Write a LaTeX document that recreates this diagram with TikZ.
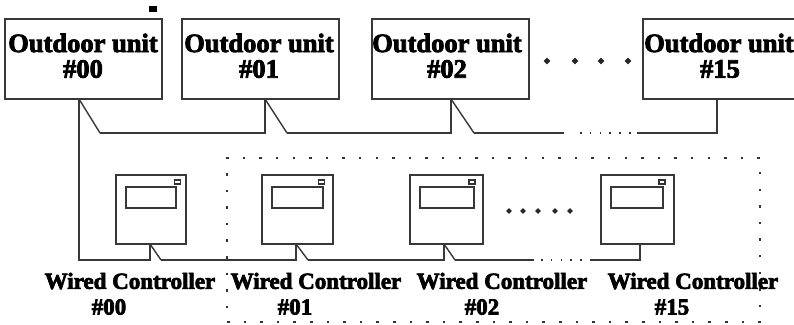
\documentclass[tikz,border=0pt]{standalone}
\usepackage{fontspec}
\newfontfamily\heavy[FakeBold=3]{Liberation Serif Bold}
\usetikzlibrary{shapes.geometric}
\tikzset{
  x=1pt,y=-1pt,
  line/.style={line width=1.7pt,draw=black!78},
  thinline/.style={line width=1.4pt,draw=black!78},
  unitbox/.style={line,rectangle,inner sep=0pt,outer sep=0pt,minimum width=157pt,minimum height=80pt},
  ctrlbox/.style={line,rectangle,inner sep=0pt,outer sep=0pt,minimum height=69pt},
  screen/.style={line,rectangle,inner sep=0pt,outer sep=0pt,minimum height=21pt},
  led/.style={line width=1.2pt,draw=black!80,rectangle,inner sep=0pt,outer sep=0pt,minimum width=6pt,minimum height=4pt},
  unitlabel/.style={inner sep=0pt,font=\heavy\fontsize{26.5}{27}\selectfont},
  ctrllabel/.style={inner sep=0pt,font=\heavy\fontsize{23}{24}\selectfont},
  gapdots/.style={line width=1.3pt,draw=black!80,dash pattern=on 1.5pt off 8.3pt},
  bigdot/.style={fill=black!85,diamond,inner sep=0pt,minimum size=7pt},
  smalldot/.style={fill=black!85,diamond,inner sep=0pt,minimum size=6pt}
}
\begin{document}
\begin{tikzpicture}
\useasboundingbox (0,0) rectangle (794,324);
\clip (0,0) rectangle (794,324);
\fill[white] (0,0) rectangle (794,324);
% stray mark
\node[fill=black,inner sep=0pt,minimum width=8pt,minimum height=6pt] (mark) at (153,9) {};
% outdoor units
\node[unitbox] (o0) at (83.5,59) {};
\node[unitbox] (o1) at (260.5,59) {};
\node[unitbox] (o2) at (450.5,59) {};
\node[unitbox,minimum width=160pt] (o3) at (723,59) {};
\node[unitlabel] (o0a) at (83,43) {Outdoor unit};
\node[unitlabel] (o0b) at (83,69) {\#00};
\node[unitlabel] (o1a) at (259,43) {Outdoor unit};
\node[unitlabel] (o1b) at (259,69) {\#01};
\node[unitlabel] (o2a) at (447,43) {Outdoor unit};
\node[unitlabel] (o2b) at (447,69) {\#02};
\node[unitlabel] (o3a) at (719,43) {Outdoor unit};
\node[unitlabel] (o3b) at (720,69) {\#15};
% dots between outdoor units
\foreach \x/\n in {547/a,575/b,601/c,628/d}
  \node[bigdot] (od\n) at (\x,61) {};
% dotted frame
\node[draw=black!80,line width=1.7pt,dash pattern=on 2.5pt off 14.1pt,rectangle,inner sep=0pt,outer sep=0pt,minimum width=533pt,minimum height=164pt] (frame) at (493.5,240) {};
% controllers
\node[ctrlbox,minimum width=70pt] (c0) at (151,209.5) {};
\node[ctrlbox,minimum width=71pt] (c1) at (297.5,209.5) {};
\node[ctrlbox,minimum width=73pt] (c2) at (446.5,209.5) {};
\node[ctrlbox,minimum width=73pt] (c3) at (637.5,209.5) {};
\node[screen,minimum width=50pt] (s0) at (151,197.5) {};
\node[screen,minimum width=51pt] (s1) at (297.5,197.5) {};
\node[screen,minimum width=54pt] (s2) at (447,197.5) {};
\node[screen,minimum width=52pt] (s3) at (637,197.5) {};
\node[led] (l0) at (177.5,182) {};
\node[led] (l1) at (321.5,182) {};
\node[led] (l2) at (472,182) {};
\node[led] (l3) at (662,182) {};
\foreach \x/\n in {509/a,523/b,538/c,555/d,570/e}
  \node[smalldot] (cd\n) at (\x,211) {};
% labels
\node[ctrllabel] (c0a) at (130,281) {Wired Controller};
\node[ctrllabel] (c0b) at (109,307) {\#00};
\node[ctrllabel] (c1a) at (316,281) {Wired Controller};
\node[ctrllabel] (c1b) at (295,307) {\#01};
\node[ctrllabel] (c2a) at (502,281) {Wired Controller};
\node[ctrllabel] (c2b) at (482,307) {\#02};
\node[ctrllabel] (c3a) at (693,281) {Wired Controller};
\node[ctrllabel] (c3b) at (672,307) {\#15};
% outdoor bus
\coordinate (t0) at (100,133);
\coordinate (t1) at (265,133);
\coordinate (t1b) at (287,133);
\coordinate (t2) at (451,133);
\coordinate (t2b) at (474,133);
\coordinate (t3) at (564,133);
\coordinate (t4) at (637,133);
\coordinate (t5) at (717,133);
\coordinate (u0) at (79,99);
\coordinate (u1) at (265,99);
\coordinate (u2) at (451,99);
\draw[line] (t0) -- (t1) -- (u1) (t1b) -- (t2) -- (u2) (t2b) -- (t3);
\draw[thinline] (u0) -- (t0) (u1) -- (t1b) (u2) -- (t2b);
\draw[line] (t4) -- (t5) -- (o3.south -| t5);
\draw[gapdots] (t3) ++(16,0) -- (t4);
% controller bus
\coordinate (b0) at (79,260);
\coordinate (b1) at (150,260);
\coordinate (b1s) at (161,260);
\coordinate (b2) at (296,260);
\coordinate (b2s) at (308,260);
\coordinate (b3) at (444,260);
\coordinate (b3s) at (455,260);
\coordinate (b4) at (534,260);
\coordinate (b5) at (591,260);
\coordinate (b6) at (640,260);
\draw[line] (u0) -- (b0) -- (b1) -- (c0.south -| b1) (b1s) -- (b2) -- (c1.south -| b2) (b2s) -- (b3) -- (c2.south -| b3) (b3s) -- (b4);
\draw[thinline] (c0.south -| b1) -- (b1s) (c1.south -| b2) -- (b2s) (c2.south -| b3) -- (b3s);
\draw[line] (b5) -- (b6) -- (c3.south -| b6);
\draw[gapdots] (b4) ++(7,0) -- (b5);
\end{tikzpicture}
\end{document}
